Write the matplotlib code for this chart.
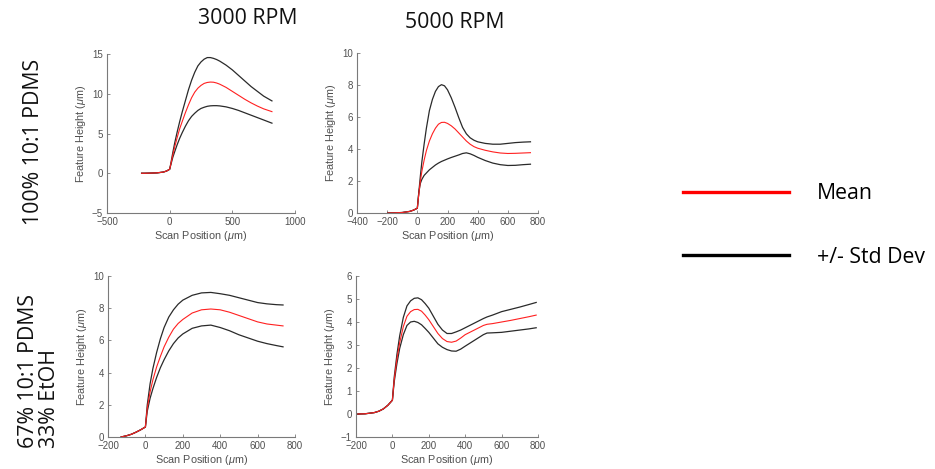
import matplotlib

matplotlib.use("Agg")
import matplotlib.pyplot as plt
from matplotlib.lines import Line2D

# 3000 RPM, 100% 10:1 PDMS
x_3k_pure = [-224, -200, -150, -100, -50, -25, 0, 10, 25, 40, 60, 80, 100, 125, 150, 175, 200, 225, 250, 275,
             300, 325, 350, 375, 400, 450, 500, 550, 600, 650, 700, 750, 816]
mean_3k_pure = [0, 0, 0.02, 0.05, 0.15, 0.28, 0.5, 1.2, 2.3, 3.3, 4.5, 5.6, 6.5, 7.6, 8.6, 9.5, 10.2, 10.7, 11.05, 11.3,
                11.42, 11.47, 11.45, 11.35, 11.2, 10.8, 10.3, 9.8, 9.3, 8.85, 8.45, 8.1, 7.75]
upper_3k_pure = [0, 0, 0.02, 0.05, 0.15, 0.28, 0.5, 1.3, 2.6, 3.8, 5.2, 6.5, 7.7, 9.1, 10.5, 11.7, 12.7, 13.5, 14.0, 14.35,
                 14.55, 14.55, 14.45, 14.3, 14.1, 13.6, 13.0, 12.3, 11.6, 10.9, 10.3, 9.7, 9.1]
lower_3k_pure = [0, 0, 0.02, 0.05, 0.15, 0.28, 0.5, 1.1, 2.0, 2.7, 3.6, 4.4, 5.1, 5.9, 6.6, 7.15, 7.55, 7.9, 8.15, 8.3,
                 8.42, 8.48, 8.5, 8.5, 8.47, 8.35, 8.15, 7.9, 7.6, 7.3, 7.0, 6.7, 6.3]

# 5000 RPM, 100% 10:1 PDMS
x_5k_pure = [-195, -150, -100, -50, -25, 0, 10, 20, 30, 45, 60, 80, 100, 120, 140, 160, 180, 200, 225, 250, 275,
             300, 325, 350, 375, 400, 450, 500, 550, 600, 650, 700, 750]
mean_5k_pure = [0, 0.01, 0.03, 0.1, 0.18, 0.3, 1.2, 2.0, 2.6, 3.3, 3.9, 4.5, 4.95, 5.3, 5.55, 5.66, 5.67, 5.6, 5.45,
                5.25, 5.0, 4.75, 4.5, 4.3, 4.15, 4.05, 3.92, 3.82, 3.75, 3.72, 3.73, 3.75, 3.77]
upper_5k_pure = [0, 0.01, 0.03, 0.1, 0.18, 0.3, 1.3, 2.3, 3.2, 4.3, 5.3, 6.4, 7.1, 7.6, 7.9, 8.02, 7.95, 7.7, 7.2,
                 6.6, 5.95, 5.35, 4.95, 4.7, 4.55, 4.45, 4.35, 4.3, 4.3, 4.35, 4.4, 4.43, 4.45]
lower_5k_pure = [0, 0.01, 0.03, 0.1, 0.18, 0.3, 1.3, 1.85, 2.1, 2.35, 2.5, 2.7, 2.85, 3.0, 3.12, 3.22, 3.3, 3.38,
                 3.47, 3.55, 3.63, 3.72, 3.76, 3.7, 3.6, 3.48, 3.28, 3.12, 3.02, 2.97, 2.98, 3.02, 3.05]

# 3000 RPM, 67% 10:1 PDMS / 33% EtOH
x_3k_etoh = [-130, -100, -75, -50, -25, 0, 10, 25, 40, 60, 80, 100, 125, 150, 175, 200, 250, 300, 350, 400, 450,
             500, 550, 600, 650, 700, 736]
mean_3k_etoh = [0, 0.08, 0.17, 0.3, 0.45, 0.62, 1.8, 2.8, 3.55, 4.35, 5.0, 5.6, 6.2, 6.7, 7.05, 7.3, 7.7, 7.9, 7.95,
                7.9, 7.75, 7.55, 7.35, 7.15, 7.02, 6.95, 6.9]
upper_3k_etoh = [0, 0.08, 0.17, 0.3, 0.45, 0.62, 2.0, 3.3, 4.25, 5.25, 6.1, 6.8, 7.45, 7.9, 8.25, 8.5, 8.8, 8.95,
                 8.98, 8.9, 8.8, 8.65, 8.5, 8.35, 8.27, 8.22, 8.2]
lower_3k_etoh = [0, 0.08, 0.17, 0.3, 0.45, 0.62, 1.6, 2.4, 3.0, 3.7, 4.3, 4.8, 5.35, 5.8, 6.15, 6.4, 6.75, 6.9,
                 6.95, 6.8, 6.6, 6.35, 6.15, 5.95, 5.8, 5.68, 5.6]

# 5000 RPM, 67% 10:1 PDMS / 33% EtOH
x_5k_etoh = [-190, -150, -100, -75, -50, -25, 0, 10, 25, 40, 60, 80, 100, 120, 140, 160, 180, 200, 225, 250, 275,
             300, 325, 350, 375, 400, 450, 500, 520, 550, 600, 650, 700, 750, 790]
mean_5k_etoh = [0, 0.01, 0.06, 0.12, 0.22, 0.38, 0.6, 1.5, 2.4, 3.1, 3.8, 4.25, 4.45, 4.54, 4.55, 4.47, 4.3, 4.1,
                3.8, 3.5, 3.28, 3.15, 3.12, 3.17, 3.3, 3.45, 3.65, 3.85, 3.9, 3.93, 4.0, 4.07, 4.15, 4.23, 4.3]
upper_5k_etoh = [0, 0.01, 0.06, 0.12, 0.22, 0.38, 0.6, 1.6, 2.6, 3.4, 4.2, 4.7, 4.92, 5.03, 5.05, 4.97, 4.8, 4.6,
                 4.25, 3.9, 3.65, 3.5, 3.5, 3.57, 3.65, 3.75, 3.95, 4.15, 4.22, 4.3, 4.45, 4.55, 4.65, 4.76, 4.85]
lower_5k_etoh = [0, 0.01, 0.06, 0.12, 0.22, 0.38, 0.6, 1.4, 2.2, 2.85, 3.45, 3.85, 4.0, 4.03, 3.98, 3.88, 3.72,
                 3.55, 3.3, 3.05, 2.9, 2.8, 2.74, 2.73, 2.82, 2.95, 3.2, 3.45, 3.52, 3.53, 3.55, 3.6, 3.65, 3.7, 3.75]

COL_TITLES = ["3000 RPM", "5000 RPM"]
ROW_TITLES = ["100% 10:1 PDMS", "67% 10:1 PDMS\n33% EtOH"]
LEGEND_LABELS = ["Mean", "+/- Std Dev"]

INK = "#505050"
SPINE = "#7a7a7a"
RED = "#ff2020"
BLACK = "#2a2a2a"

plt.rcParams.update(
    {
        "font.family": ["Liberation Sans", "DejaVu Sans"],
        "mathtext.fontset": "custom",
        "mathtext.it": "Liberation Sans:italic",
        "xtick.direction": "in",
        "ytick.direction": "in",
        "xtick.major.size": 2.2,
        "ytick.major.size": 2.2,
        "xtick.major.width": 0.6,
        "ytick.major.width": 0.6,
        "xtick.color": SPINE,
        "ytick.color": SPINE,
        "xtick.labelcolor": INK,
        "ytick.labelcolor": INK,
        "xtick.labelsize": 7.0,
        "ytick.labelsize": 7.0,
        "axes.labelsize": 7.8,
        "axes.labelcolor": INK,
        "axes.edgecolor": SPINE,
        "axes.linewidth": 0.8,
    }
)

PANELS = [
    # data, limits, ticks, and axes box in pixels (left, right, top, bottom)
    (x_3k_pure, mean_3k_pure, upper_3k_pure, lower_3k_pure, (-500, 1000), (-5, 15),
     [-500, 0, 500, 1000], [-5, 0, 5, 10, 15], (107, 295, 54, 213)),
    (x_5k_pure, mean_5k_pure, upper_5k_pure, lower_5k_pure, (-400, 800), (0, 10),
     [-400, -200, 0, 200, 400, 600, 800], [0, 2, 4, 6, 8, 10], (357, 538, 53, 213)),
    (x_3k_etoh, mean_3k_etoh, upper_3k_etoh, lower_3k_etoh, (-200, 800), (0, 10),
     [-200, 0, 200, 400, 600, 800], [0, 2, 4, 6, 8, 10], (108, 295, 276, 437)),
    (x_5k_etoh, mean_5k_etoh, upper_5k_etoh, lower_5k_etoh, (-200, 800), (-1, 6),
     [-200, 0, 200, 400, 600, 800], [-1, 0, 1, 2, 3, 4, 5, 6], (356, 538, 276, 437)),
]

W, H = 935, 469
fig = plt.figure(figsize=(W / 100, H / 100), dpi=100)

for x, mean, upper, lower, xlim, ylim, xticks, yticks, (l, r, t, b) in PANELS:
    ax = fig.add_axes([l / W, (H - b) / H, (r - l) / W, (b - t) / H])
    ax.plot(x, upper, color=BLACK, lw=0.9)
    ax.plot(x, lower, color=BLACK, lw=0.9)
    ax.plot(x, mean, color=RED, lw=0.8)
    ax.set_xlim(*xlim)
    ax.set_ylim(*ylim)
    ax.set_xticks(xticks)
    ax.set_yticks(yticks)
    ax.spines["top"].set_visible(False)
    ax.spines["right"].set_visible(False)
    ax.tick_params(axis="x", pad=3)
    ax.tick_params(axis="y", pad=3)
    ax.set_xlabel(r"Scan Position ($\mu$m)", labelpad=1.5)
    ax.set_ylabel(r"Feature Height ($\mu$m)", labelpad=3)

title_font = dict(family=["Open Sans", "DejaVu Sans"], fontsize=15.3, color="#111111")
fig.text(248 / W, 1 - 18 / H, COL_TITLES[0], ha="center", va="center", **title_font)
fig.text(455 / W, 1 - 22 / H, COL_TITLES[1], ha="center", va="center", **title_font)
fig.text(34 / W, 1 - 142 / H, ROW_TITLES[0], rotation=90, ha="center", va="center", **title_font)
fig.text(39 / W, 1 - 448 / H, ROW_TITLES[1], rotation=90, ha="center", va="bottom",
         multialignment="left", linespacing=0.95, **title_font)

handles = [Line2D([], [], color="#ff0000", lw=2.4), Line2D([], [], color="#000000", lw=2.4)]
fig.legend(handles, LEGEND_LABELS, loc="upper left", bbox_to_anchor=(664 / W, 1 - 164 / H),
           frameon=False, handlelength=5.0, handletextpad=1.3, labelspacing=2.0,
           prop={"family": ["Open Sans", "DejaVu Sans"], "size": 15.3})

fig.savefig("out.png", dpi=100)
